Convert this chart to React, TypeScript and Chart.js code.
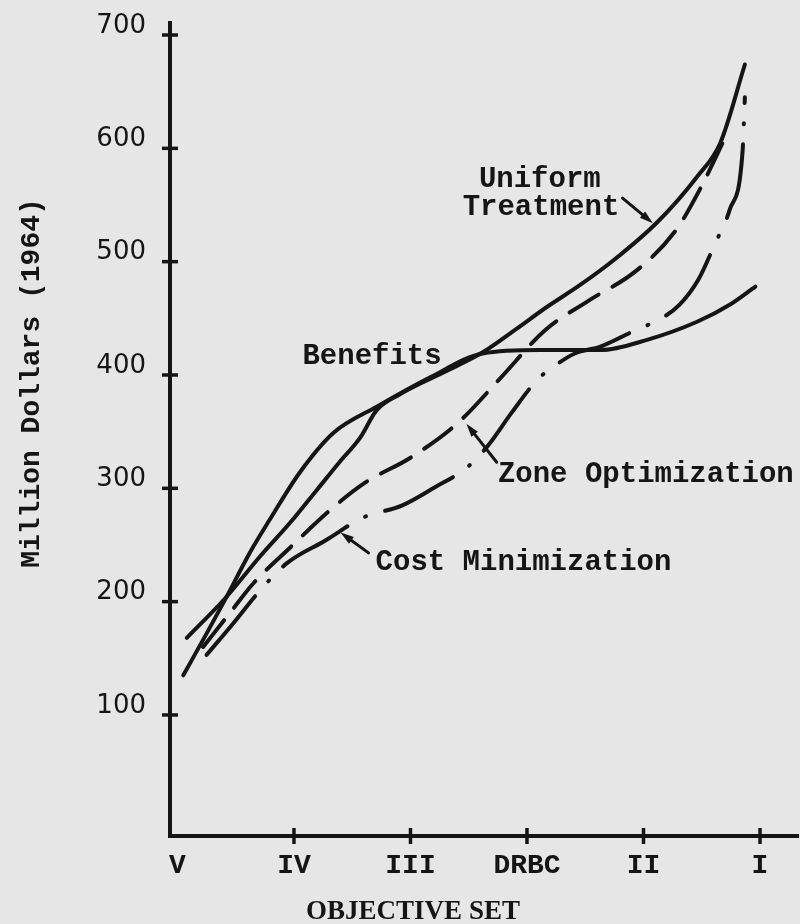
import React, { useEffect, useRef } from "react";
import { Chart, registerables } from "chart.js";

Chart.register(...registerables);

// ---- axis data ----
const objectiveSets = ["V", "IV", "III", "DRBC", "II", "I"];
const yTickValues = [100, 200, 300, 400, 500, 600, 700];

// ---- series (x = objective-set position, y = million dollars, 1964) ----
const benefitsX = [0.05, 0.24, 0.41, 0.62, 0.79, 1.05, 1.34, 1.71, 2.17, 2.62, 3.11, 3.63, 4.03, 4.46, 4.74, 4.96];
const benefitsY = [135, 170, 202, 243, 272, 314, 349, 372, 398, 419, 422, 422, 431, 447, 462, 478];

const uniformX = [0.08, 0.41, 0.71, 0.97, 1.2, 1.39, 1.57, 1.71, 1.91, 2.34, 2.62, 2.9, 3.17, 3.45, 3.74, 4.12, 4.46, 4.66, 4.87];
const uniformY = [168, 203, 240, 270, 299, 323, 345, 369, 383, 405, 420, 440, 460, 479, 501, 535, 575, 605, 674];

const zoneX = [0.22, 0.48, 0.65, 0.97, 1.29, 1.61, 2.0, 2.41, 2.77, 3.16, 3.52, 3.95, 4.28, 4.49, 4.68];
const zoneY = [160, 194, 216, 248, 279, 305, 327, 358, 397, 440, 465, 493, 528, 565, 605];

const costX = [0.25, 0.48, 0.71, 0.94, 1.27, 1.59, 1.93, 2.21, 2.48, 2.66, 2.87, 3.09, 3.21, 3.41, 3.63, 3.9, 4.17, 4.31, 4.47, 4.61, 4.74, 4.85, 4.87];
const costY = [153, 181, 210, 234, 254, 274, 285, 301, 318, 337, 367, 396, 406, 419, 425, 438, 451, 462, 484, 515, 546, 597, 645];

// ---- curve labels (anchored in data units) ----
const labelTexts = ["Uniform", "Treatment", "Benefits", "Zone Optimization", "Cost Minimization"];
const labelX = [3.11, 3.12, 1.67, 4.02, 2.97];
const labelY = [572, 548, 416, 312, 234];

// ---- pointer arrows (from -> to, data units) ----
const arrowFromX = [3.82, 2.74, 1.64];
const arrowFromY = [556, 323, 243];
const arrowToX = [4.08, 2.48, 1.4];
const arrowToY = [534, 357, 261];

const INK = "#151515";
const PAPER = "#e6e6e6";

const zip = (xs: number[], ys: number[]) => xs.map((x, i) => ({ x, y: ys[i] }));

const crossTicksPlugin = {
  id: "crossTicks",
  afterDraw(chart: any) {
    const { ctx } = chart;
    const x = chart.scales.x;
    const y = chart.scales.y;
    ctx.save();
    ctx.strokeStyle = INK;
    ctx.lineWidth = 3.5;
    ctx.lineCap = "butt";
    for (let i = 1; i < objectiveSets.length; i++) {
      const px = x.getPixelForValue(i);
      ctx.beginPath();
      ctx.moveTo(px, y.bottom - 8);
      ctx.lineTo(px, y.bottom + 8);
      ctx.stroke();
    }
    for (const v of yTickValues) {
      const py = y.getPixelForValue(v);
      ctx.beginPath();
      ctx.moveTo(x.left - 8, py);
      ctx.lineTo(x.left + 8, py);
      ctx.stroke();
    }
    ctx.restore();
  },
};

const annotationPlugin = {
  id: "curveAnnotations",
  beforeDraw(chart: any) {
    const { ctx, width, height } = chart;
    ctx.save();
    ctx.fillStyle = PAPER;
    ctx.fillRect(0, 0, width, height);
    ctx.restore();
  },
  afterDraw(chart: any) {
    const { ctx } = chart;
    const x = chart.scales.x;
    const y = chart.scales.y;
    ctx.save();
    ctx.fillStyle = INK;
    ctx.strokeStyle = INK;
    ctx.textAlign = "center";
    ctx.textBaseline = "middle";
    ctx.font = "bold 29px 'Liberation Mono', monospace";
    labelTexts.forEach((t, i) => {
      ctx.fillText(t, x.getPixelForValue(labelX[i]), y.getPixelForValue(labelY[i]));
    });

    // arrows
    ctx.lineWidth = 3;
    ctx.lineCap = "round";
    arrowFromX.forEach((_, i) => {
      const x0 = x.getPixelForValue(arrowFromX[i]);
      const y0 = y.getPixelForValue(arrowFromY[i]);
      const x1 = x.getPixelForValue(arrowToX[i]);
      const y1 = y.getPixelForValue(arrowToY[i]);
      const ang = Math.atan2(y1 - y0, x1 - x0);
      const head = 14;
      const spread = 0.3;
      ctx.beginPath();
      ctx.moveTo(x0, y0);
      ctx.lineTo(x1 - Math.cos(ang) * head * 0.6, y1 - Math.sin(ang) * head * 0.6);
      ctx.stroke();
      ctx.beginPath();
      ctx.moveTo(x1, y1);
      ctx.lineTo(x1 - head * Math.cos(ang - spread), y1 - head * Math.sin(ang - spread));
      ctx.lineTo(x1 - head * Math.cos(ang + spread), y1 - head * Math.sin(ang + spread));
      ctx.closePath();
      ctx.fill();
    });

    // axis titles
    ctx.font = "bold 27px 'Liberation Serif', serif";
    ctx.fillText("OBJECTIVE SET", 413, 912);
    ctx.translate(32, 383);
    ctx.rotate(-Math.PI / 2);
    ctx.font = "bold 28px 'Liberation Mono', monospace";
    ctx.fillText("Million Dollars (1964)", 0, 0);
    ctx.restore();
  },
};

export default function App() {
  const canvasRef = useRef<HTMLCanvasElement>(null);

  useEffect(() => {
    document.body.style.margin = "0";
    document.body.style.background = PAPER;
    const canvas = canvasRef.current;
    if (!canvas) return;

    const lineBase = {
      borderColor: INK,
      borderWidth: 4,
      pointRadius: 0,
      pointHoverRadius: 0,
      fill: false,
      cubicInterpolationMode: "monotone" as const,
      borderCapStyle: "round" as const,
      borderJoinStyle: "round" as const,
    };

    const chart = new Chart(canvas, {
      type: "line",
      data: {
        datasets: [
          { ...lineBase, label: "Benefits", data: zip(benefitsX, benefitsY) },
          { ...lineBase, label: "Uniform Treatment", data: zip(uniformX, uniformY) },
          { ...lineBase, label: "Zone Optimization", data: zip(zoneX, zoneY), borderDash: [34, 16] },
          { ...lineBase, label: "Cost Minimization", data: zip(costX, costY), borderDash: [76, 20, 1, 20] },
        ],
      },
      options: {
        animation: false,
        responsive: false,
        devicePixelRatio: 1,
        layout: { padding: { top: 23, right: 2, left: 0, bottom: 0 } },
        plugins: {
          legend: { display: false },
          tooltip: { enabled: false },
          title: { display: false },
        },
        scales: {
          x: {
            type: "linear",
            min: -0.064,
            max: 5.326,
            afterBuildTicks: (scale: any) => {
              scale.ticks = objectiveSets.map((_, i) => ({ value: i }));
            },
            afterFit: (scale: any) => {
              scale.height = 88;
              scale.paddingLeft = 0;
              scale.paddingRight = 0;
            },
            grid: { display: false, drawTicks: false },
            border: { display: true, color: INK, width: 4 },
            ticks: {
              autoSkip: false,
              maxRotation: 0,
              padding: 13,
              color: INK,
              font: { family: "'Liberation Mono', monospace", size: 28, weight: "bold" },
              callback: (v: any) => objectiveSets[Math.round(Number(v))] ?? "",
            },
          },
          y: {
            type: "linear",
            min: -6.8,
            max: 710.6,
            afterBuildTicks: (scale: any) => {
              scale.ticks = yTickValues.map((v) => ({ value: v }));
            },
            afterFit: (scale: any) => {
              scale.width = 170;
              scale.paddingTop = 0;
              scale.paddingBottom = 0;
            },
            grid: { display: false, drawTicks: false },
            border: { display: true, color: INK, width: 4 },
            ticks: {
              padding: 24,
              labelOffset: -9,
              color: INK,
              font: { family: "'DejaVu Sans', sans-serif", size: 26 },
              callback: (v: any) => String(v),
            },
          },
        },
      },
      plugins: [annotationPlugin, crossTicksPlugin],
    });

    return () => chart.destroy();
  }, []);

  return (
    <div style={{ position: "absolute", left: 0, top: 0, width: 800, height: 924, background: PAPER }}>
      <canvas ref={canvasRef} width={800} height={924} />
    </div>
  );
}
